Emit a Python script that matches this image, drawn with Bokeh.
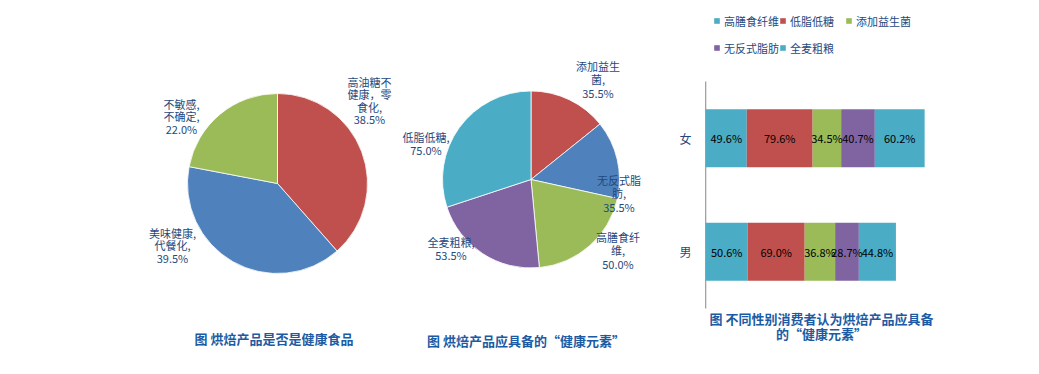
import numpy as np
from bokeh.plotting import figure
from bokeh.models import Range1d, ColumnDataSource, Legend, LegendItem, LinearAxis, FixedTicker
from bokeh.layouts import row
from bokeh.core.properties import value
from bokeh.embed import file_html
from bokeh.resources import INLINE

FONT = "Noto Sans CJK SC"
LABEL_COLOR = "#1F497D"
TITLE_COLOR = "#1C5BA3"

# ---------------- data ----------------
# Chart 1: is baked food healthy
pie1_categories = ["高油糖不\n健康，零\n食化", "美味健康,\n代餐化", "不敏感,\n不确定"]
pie1_values = [38.5, 39.5, 22.0]
pie1_colors = ["#C0504D", "#4F81BD", "#9BBB59"]
pie1_title = "图  烘焙产品是否是健康食品"

# Chart 2: health elements
pie2_categories = ["添加益生\n菌", "无反式脂\n肪", "高膳食纤\n维", "全麦粗粮", "低脂低糖"]
pie2_values = [35.5, 35.5, 50.0, 53.5, 75.0]
pie2_colors = ["#C0504D", "#4F81BD", "#9BBB59", "#8064A2", "#4BACC6"]
pie2_title = "图 烘焙产品应具备的“健康元素”"

# Chart 3: by gender
genders = ["女", "男"]
series_names = ["高膳食纤维", "低脂低糖", "添加益生菌", "无反式脂肪", "全麦粗粮"]
female_values = [49.6, 79.6, 34.5, 40.7, 60.2]
male_values = [50.6, 69.0, 36.8, 28.7, 44.8]
bar_colors = ["#4BACC6", "#C0504D", "#9BBB59", "#8064A2", "#4BACC6"]
bar_title = "图 不同性别消费者认为烘焙产品应具备\n的“健康元素”"

# label placement (layout, px offsets from pie centre)
pie1_label_pos = [(92, 83), (-105, -62), (-96, 67)]
pie2_label_pos = [(67, 100), (88, -14), (87, -71), (-80, -69), (-105, 36)]


def base_fig(w, xr, yr, left=0):
    p = figure(width=w, height=374, x_range=xr, y_range=yr, output_backend="svg",
               toolbar_location=None, x_axis_location=None, y_axis_location=None,
               min_border=0, min_border_left=left, min_border_right=0,
               min_border_top=0, min_border_bottom=0)
    p.frame_align = False
    p.outline_line_color = None
    p.grid.visible = False
    p.background_fill_color = "white"
    p.border_fill_color = "white"
    return p


def draw_pie(p, cats, vals, cols, radius, label_pos, title, title_xy, lh):
    v = np.array(vals, dtype=float)
    frac = v / v.sum()
    cum = np.concatenate([[0.0], np.cumsum(frac)])
    start = np.pi / 2 - 2 * np.pi * cum[:-1]
    end = np.pi / 2 - 2 * np.pi * cum[1:]
    src = ColumnDataSource(dict(start=start, end=end, color=cols))
    p.wedge(x=0, y=0, radius=radius, start_angle="start", end_angle="end",
            direction="clock", fill_color="color", line_color="white",
            line_width=0.8, source=src)
    labels = [f"{c},\n{x:.1f}%" for c, x in zip(cats, vals)]
    lsrc = ColumnDataSource(dict(x=[a for a, b in label_pos], y=[b for a, b in label_pos], t=labels))
    p.text(x="x", y="y", text="t", source=lsrc, text_align="center", text_baseline="middle",
           text_font=value(FONT), text_font_size="11px", text_color=LABEL_COLOR,
           text_line_height=lh)
    p.text(x=[title_xy[0]], y=[title_xy[1]], text=[title], text_align="center",
           text_baseline="middle", text_font=value(FONT), text_font_size="13px",
           text_font_style="bold", text_color=TITLE_COLOR)


# ---- figure A ----
pA = base_fig(400, Range1d(-277, 123), Range1d(-191, 183))
draw_pie(pA, pie1_categories, pie1_values, pie1_colors, 90, pie1_label_pos, pie1_title, (-2, -155), 0.76)

# ---- figure B ----
pB = base_fig(260, Range1d(-130.5, 129.5), Range1d(-195, 179))
draw_pie(pB, pie2_categories, pie2_values, pie2_colors, 88.5, pie2_label_pos, pie2_title, (-5, -161), 0.83)

# ---- figure C (stacked horizontal bars) ----
gpos = list(range(len(genders)))[::-1]          # 女 -> 1 (top), 男 -> 0
pC = base_fig(379, Range1d(-1.5, 328.5), Range1d(-1.0815, 2.2137), left=44)
pC.min_border_right = 62

yax = LinearAxis(ticker=FixedTicker(ticks=gpos),
                 major_label_overrides={p: g for p, g in zip(gpos, genders)})
yax.axis_line_color = None
yax.major_tick_line_color = None
yax.minor_tick_line_color = None
yax.major_label_text_font = FONT
yax.major_label_text_font_size = "12px"
yax.major_label_text_color = LABEL_COLOR
yax.major_label_standoff = 7
pC.add_layout(yax, "left")

# category axis line spanning the category band
pC.segment(x0=[0], y0=[min(gpos) - 0.5], x1=[0], y1=[max(gpos) + 0.5],
           line_color="#868686", line_width=1)

keys = [f"s{i}" for i in range(len(series_names))]
data = dict(pos=gpos)
for i, k in enumerate(keys):
    data[k] = [female_values[i], male_values[i]]
src = ColumnDataSource(data)
rends = pC.hbar_stack(keys, y="pos", height=0.51, color=bar_colors, line_color=None, source=src)

# value labels centred in each segment
lx, ly, lt = [], [], []
for gp, vals in zip(gpos, [female_values, male_values]):
    c = np.cumsum(vals)
    mids = c - np.array(vals) / 2
    for m, vv in zip(mids, vals):
        lx.append(m)
        ly.append(gp)
        lt.append(f"{vv:.1f}%")
pC.text(x=lx, y=ly, text=lt, text_align="center", text_baseline="middle",
        text_font=value(FONT), text_font_size="11px", text_color="black")

pC.text(x=[140], y=[-0.654], text=[bar_title], text_align="center", text_baseline="middle",
        text_font=value(FONT), text_font_size="13px", text_font_style="bold",
        text_color=TITLE_COLOR, text_line_height=0.75)

legend = Legend(items=[LegendItem(label=n, renderers=[r]) for n, r in zip(series_names, rends)],
                location=(9, 313), orientation="horizontal", ncols=3,
                glyph_width=7, glyph_height=7, label_standoff=4, label_height=27,
                label_width=55, spacing=0, padding=0, margin=0,
                label_text_font=FONT, label_text_font_size="11px",
                label_text_color=LABEL_COLOR, border_line_color=None,
                background_fill_alpha=0)
pC.add_layout(legend, "center")

layout = row(pA, pB, pC, spacing=0)
open("out.html", "w").write(file_html(layout, INLINE))
